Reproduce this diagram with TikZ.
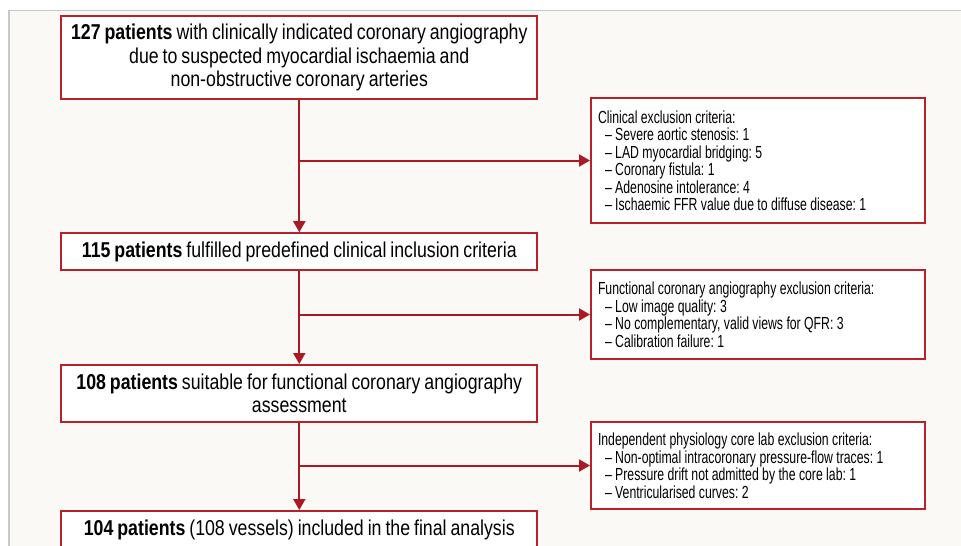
\documentclass[tikz,border=0pt]{standalone}
\usepackage{fontspec}
\setmainfont{Liberation Sans}[FakeStretch=0.825, WordSpace=0.8]
\newfontfamily\sidefont{Liberation Sans}[FakeStretch=0.7]
\DeclareRobustCommand\sidesp{\spaceskip=3.4pt plus 1pt minus 0.5pt\relax}
\usetikzlibrary{arrows.meta}
\definecolor{boxred}{RGB}{183,34,42}
\definecolor{arrred}{RGB}{168,26,36}
\definecolor{bgcol}{RGB}{250,249,246}
\definecolor{framegray}{RGB}{200,200,200}
\begin{document}
\frenchspacing
\begin{tikzpicture}[x=1pt,y=-1pt,
  mainbox/.style={draw=boxred, line width=2pt, fill=white, minimum width=476pt, inner sep=0pt, align=center, font=\fontsize{21.5}{23.5}\selectfont},
  sidebox/.style={draw=boxred, line width=2pt, fill=white, minimum width=334pt, inner sep=0pt, align=left, text width=320pt, font=\sidefont\fontsize{17.5}{17.5}\selectfont},
  conn/.style={draw=arrred, line width=2pt, -{Triangle[length=11pt,width=12pt]}}
]
\useasboundingbox (0,0) rectangle (961,546);
\clip (0,0) rectangle (961,546);
\fill[bgcol] (9,10.5) rectangle (961,546);
\draw[framegray, line width=1.5pt] (9,546) -- (9,10.5) -- (961,10.5);

\node[mainbox, minimum height=83pt] (b1) at (299.3,57.5) {\textbf{127 patients} with clinically indicated coronary angiography\\due to suspected myocardial ischaemia and\\non-obstructive coronary arteries};
\node[mainbox, minimum height=37pt] (b2) at (299.3,251.7) {\textbf{115 patients} fulfilled predefined clinical inclusion criteria};
\node[mainbox, minimum height=57pt] (b3) at (299.3,393.5) {\textbf{108 patients} suitable for functional coronary angiography\\assessment};
\node[mainbox, minimum height=37pt] (b4) at (299.3,529.5) {\textbf{104 patients} (108 vessels) included in the final analysis};

\node[sidebox, minimum height=125pt] (sA) at (758,160.5) {\sidesp Clinical exclusion criteria:\\
\hspace*{7pt}– Severe aortic stenosis: 1\\
\hspace*{7pt}– LAD myocardial bridging: 5\\
\hspace*{7pt}– Coronary fistula: 1\\
\hspace*{7pt}– Adenosine intolerance: 4\\
\hspace*{7pt}– Ischaemic FFR value due to diffuse disease: 1};
\node[sidebox, minimum height=89pt] (sB) at (758,314.5) {\sidesp Functional coronary angiography exclusion criteria:\\
\hspace*{7pt}– Low image quality: 3\\
\hspace*{7pt}– No complementary, valid views for QFR: 3\\
\hspace*{7pt}– Calibration failure: 1};
\node[sidebox, minimum height=87pt] (sC) at (758,465.5) {\sidesp Independent physiology core lab exclusion criteria:\\
\hspace*{7pt}– Non-optimal intracoronary pressure-flow traces: 1\\
\hspace*{7pt}– Pressure drift not admitted by the core lab: 1\\
\hspace*{7pt}– Ventricularised curves: 2};

\draw[conn] (b1) -- (b2);
\draw[conn] (b2) -- (b3);
\draw[conn] (b3) -- (b4);
\coordinate (j1) at (b1.south |- sA.west);
\coordinate (j2) at (b2.south |- sB.west);
\coordinate (j3) at (b3.south |- sC.west);
\draw[conn] (j1) -- (sA.west);
\draw[conn] (j2) -- (sB.west);
\draw[conn] (j3) -- (sC.west);
\end{tikzpicture}
\end{document}
